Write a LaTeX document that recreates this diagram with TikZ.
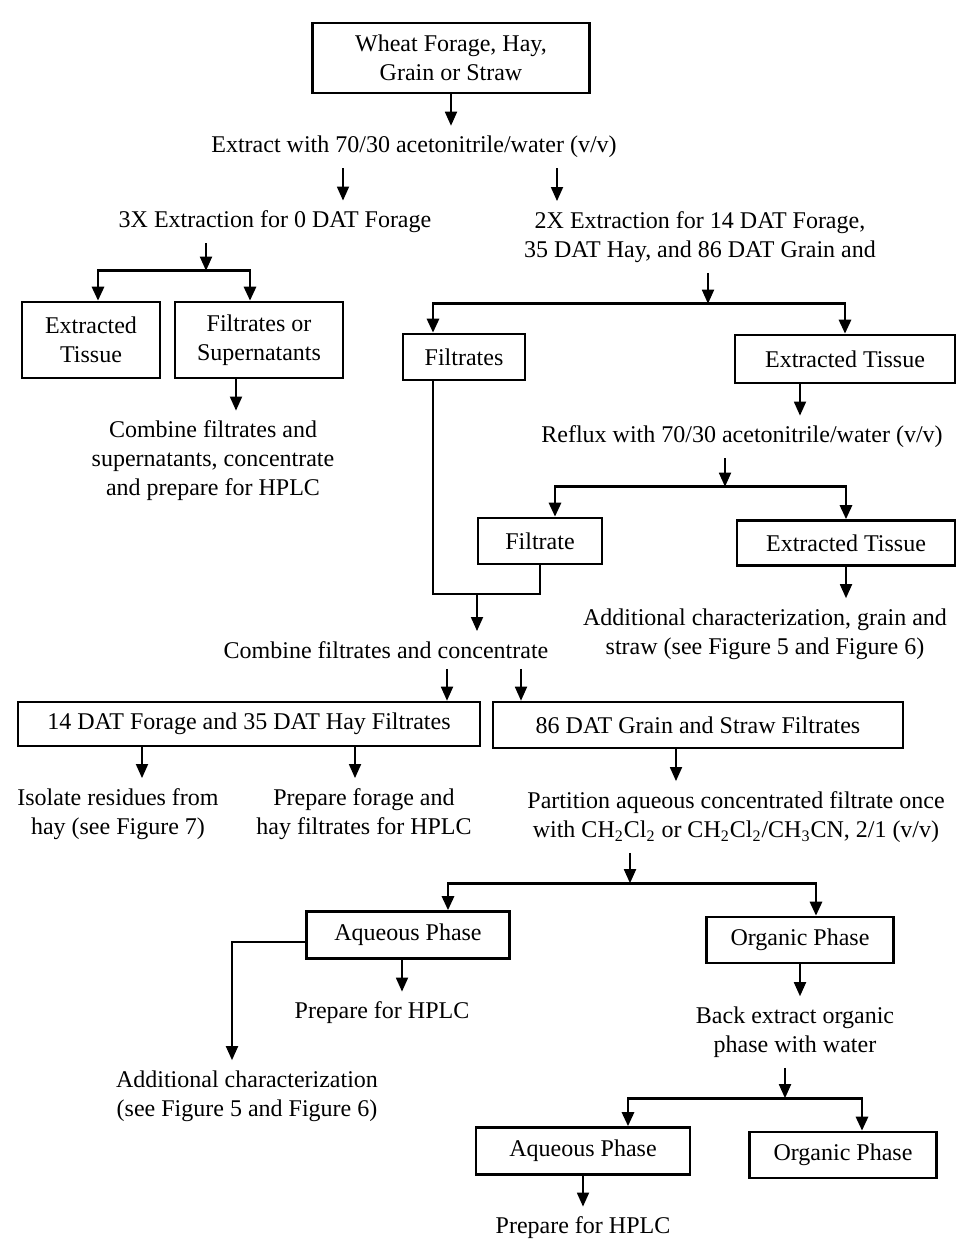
\documentclass[tikz,border=0pt]{standalone}
\usepackage{fontspec}
\setmainfont{Liberation Serif}
\usetikzlibrary{positioning,calc,arrows.meta}

\begin{document}
\begin{tikzpicture}[x=0.5pt,y=-0.5pt,>={Triangle[length=7pt,width=6pt]},
  font=\fontsize{12}{14.5}\selectfont,on grid,
  box/.style={draw,line width=1.3pt,align=center,inner sep=2pt},
  txt/.style={align=center,inner xsep=2pt,inner ysep=5pt},
  arr/.style={->,line width=0.9pt},
  fork/.style={->,line width=1.4pt},
  link/.style={line width=0.9pt}]
\useasboundingbox (0,0) rectangle (961,1239);

\node[box,minimum width=138.5pt,minimum height=35pt] (wheat) at (451,58) {Wheat Forage, Hay,\\Grain or Straw};
\node[txt] (extract) [below left=44.5pt and 18.5pt of wheat] {Extract with 70/30 acetonitrile/water (v/v)};
\node[txt] (three) [below left=37.5pt and 69.5pt of extract] {3X Extraction for 0 DAT Forage};
\node[txt] (two) [below right=45pt and 143pt of extract] {2X Extraction for 14 DAT Forage,\\35 DAT Hay, and 86 DAT Grain and};
\node[box,minimum width=69pt,minimum height=38pt] (tissueA) [below left=59pt and 92pt of three] {Extracted\\Tissue};
\node[box,minimum width=84pt,minimum height=38pt] (supern) [right=84pt of tissueA] {Filtrates or\\Supernatants};
\node[txt] (combineA) [below left=60.5pt and 23pt of supern] {Combine filtrates and\\supernatants, concentrate\\and prepare for HPLC};
\node[box,minimum width=61pt,minimum height=23pt] (filtrates) [below left=60pt and 118pt of two] {Filtrates};
\node[box,minimum width=110pt,minimum height=24pt] (tissueB) [below right=61pt and 72.5pt of two] {Extracted Tissue};
\node[txt] (reflux) [below left=39pt and 51.5pt of tissueB] {Reflux with 70/30 acetonitrile/water (v/v)};
\node[box,minimum width=62pt,minimum height=23pt] (filtrate) [below left=52pt and 101pt of reflux] {Filtrate};
\node[box,minimum width=109pt,minimum height=22.5pt] (tissueC) [below right=53pt and 52pt of reflux] {Extracted Tissue};
\node[txt] (charA) [below left=45.5pt and 40.5pt of tissueC] {Additional characterization, grain and\\straw (see Figure 5 and Figure 6)};
\node[txt] (combineB) [below left=54.5pt and 77pt of filtrate] {Combine filtrates and concentrate};
\node[box,minimum width=231pt,minimum height=22pt] (hayfilt) [below left=37pt and 68.5pt of combineB] {14 DAT Forage and 35 DAT Hay Filtrates};
\node[box,minimum width=205pt,minimum height=23pt] (grainfilt) [below right=37.5pt and 156pt of combineB] {86 DAT Grain and Straw Filtrates};
\node[txt] (isolate) [below left=45pt and 65.5pt of hayfilt] {Isolate residues from\\hay (see Figure 7)};
\node[txt] (prepHay) [below right=45pt and 57.5pt of hayfilt] {Prepare forage and\\hay filtrates for HPLC};
\node[txt] (partition) [below right=46pt and 19pt of grainfilt] {Partition aqueous concentrated filtrate once\\with CH\textsubscript{2}Cl\textsubscript{2} or CH\textsubscript{2}Cl\textsubscript{2}/CH\textsubscript{3}CN, 2/1 (v/v)};
\node[box,minimum width=101.5pt,minimum height=23.5pt] (aqA) [below left=59pt and 164pt of partition] {Aqueous Phase};
\node[box,minimum width=93.5pt,minimum height=23pt] (orgA) [below right=61.5pt and 32pt of partition] {Organic Phase};
\node[txt] (prepA) [below left=39pt and 13pt of aqA] {Prepare for HPLC};
\node[txt] (charB) [below left=80.5pt and 80.5pt of aqA] {Additional characterization\\(see Figure 5 and Figure 6)};
\node[txt] (back) [below left=46pt and 2.5pt of orgA] {Back extract organic\\phase with water};
\node[box,minimum width=107pt,minimum height=23.5pt] (aqB) [below left=59.5pt and 106pt of back] {Aqueous Phase};
\node[box,minimum width=93.5pt,minimum height=23pt] (orgB) [below right=61.5pt and 24pt of back] {Organic Phase};
\node[txt] (prepB) [below=38.5pt of aqB] {Prepare for HPLC};

\draw[arr] (wheat.south) -- (wheat.south |- extract.north);
\draw[arr] ([xshift=-35.5pt]extract.south) -- ([xshift=-35.5pt]extract.south |- three.north);
\draw[arr] ([xshift=71.5pt]extract.south) -- ([xshift=71.5pt]extract.south |- two.north);
% fork under 3X
\coordinate (forkA) at ($([xshift=-34.5pt]three.south |- tissueA.north)+(0pt,15pt)$);
\draw[arr] ([xshift=-34.5pt]three.south) -- (forkA);
\draw[fork] (forkA) -| ([xshift=3.5pt]tissueA.north);
\draw[fork] (forkA) -| ([xshift=-4.5pt]supern.north);
\draw[arr] ([xshift=-11.5pt]supern.south) -- ([xshift=-11.5pt]supern.south |- combineA.north);
% fork under 2X
\coordinate (forkB) at ($([xshift=4pt]two.south |- filtrates.north)+(0pt,14.5pt)$);
\draw[arr] ([xshift=4pt]two.south) -- (forkB);
\draw[fork] (forkB) -| ([xshift=-15.5pt]filtrates.north);
\draw[fork] (forkB) -| (tissueB.north);
\draw[arr] ([xshift=-22.5pt]tissueB.south) -- ([xshift=-22.5pt]tissueB.south |- reflux.north);
% fork under reflux
\coordinate (forkC) at ($([xshift=-8.5pt]reflux.south |- filtrate.north)+(0pt,15pt)$);
\draw[arr] ([xshift=-8.5pt]reflux.south) -- (forkC);
\draw[fork] (forkC) -| ([xshift=7.5pt]filtrate.north);
\draw[fork] (forkC) -| (tissueC.north);
\draw[arr] (tissueC.south) -- (tissueC.south |- charA.north);
% both filtrates joined
\coordinate (join) at ($(filtrate.south)+(-31.5pt,-14.5pt)$);
\draw[link] ([xshift=-15.5pt]filtrates.south) |- (join) -| (filtrate.south);
\draw[arr] (join) -- (join |- combineB.north);
\draw[arr] ([xshift=30.5pt]combineB.south) -- ([xshift=30.5pt]combineB.south |- hayfilt.north);
\draw[arr] ([xshift=67.5pt]combineB.south) -- ([xshift=67.5pt]combineB.south |- grainfilt.north);
\draw[arr] ([xshift=-53.5pt]hayfilt.south) -- ([xshift=-53.5pt]hayfilt.south |- isolate.north);
\draw[arr] ([xshift=53pt]hayfilt.south) -- ([xshift=53pt]hayfilt.south |- prepHay.north);
\draw[arr] ([xshift=-11pt]grainfilt.south) -- ([xshift=-11pt]grainfilt.south |- partition.north);
% fork under partition
\coordinate (forkD) at ($([xshift=-53pt]partition.south |- aqA.north)+(0pt,13.5pt)$);
\draw[arr] ([xshift=-53pt]partition.south) -- (forkD);
\draw[fork] (forkD) -| ([xshift=20pt]aqA.north);
\draw[fork] (forkD) -| ([xshift=8pt]orgA.north);
\draw[arr] ([xshift=-3pt]aqA.south) -- ([xshift=-3pt]aqA.south |- prepA.north);
\draw[arr] ([yshift=-3.5pt]aqA.west) -| ([xshift=-7.5pt]charB.north);
\draw[arr] (orgA.south) -- (orgA.south |- back.north);
% fork under back extract
\coordinate (forkE) at ($([xshift=-5pt]back.south |- aqB.north)+(0pt,14pt)$);
\draw[arr] ([xshift=-5pt]back.south) -- (forkE);
\draw[fork] (forkE) -| ([xshift=22.5pt]aqB.north);
\draw[fork] (forkE) -| ([xshift=9.5pt]orgB.north);
\draw[arr] (aqB.south) -- (aqB.south |- prepB.north);
\end{tikzpicture}
\end{document}
